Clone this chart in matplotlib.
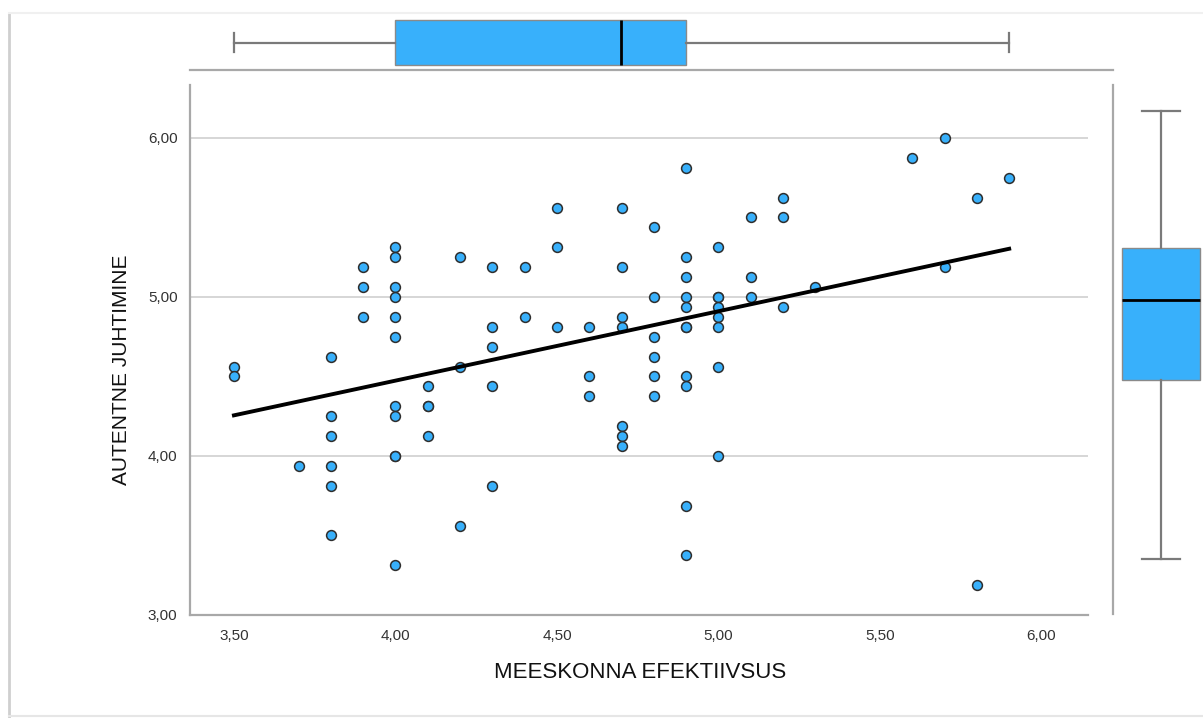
import numpy as np
import matplotlib.pyplot as plt
from matplotlib.lines import Line2D

plt.rcParams['font.family'] = ['Liberation Sans', 'DejaVu Sans']

# MEESKONNA EFEKTIIVSUS (x) vs AUTENTNE JUHTIMINE (y), one entry per respondent
x_vals = [3.5, 3.5,
          3.7,
          3.8, 3.8, 3.8, 3.8, 3.8, 3.8,
          3.9, 3.9, 3.9,
          4.0, 4.0, 4.0, 4.0, 4.0, 4.0, 4.0, 4.0, 4.0, 4.0, 4.0,
          4.1, 4.1, 4.1, 4.1,
          4.2, 4.2, 4.2,
          4.3, 4.3, 4.3, 4.3, 4.3,
          4.4, 4.4,
          4.5, 4.5, 4.5,
          4.6, 4.6, 4.6,
          4.7, 4.7, 4.7, 4.7, 4.7, 4.7, 4.7,
          4.8, 4.8, 4.8, 4.8, 4.8, 4.8,
          4.9, 4.9, 4.9, 4.9, 4.9, 4.9, 4.9, 4.9, 4.9, 4.9, 4.9,
          5.0, 5.0, 5.0, 5.0, 5.0, 5.0, 5.0, 5.0,
          5.1, 5.1, 5.1,
          5.2, 5.2, 5.2,
          5.3,
          5.6,
          5.7, 5.7,
          5.8, 5.8,
          5.9]
y_vals = [4.5625, 4.5,
          3.9375,
          4.625, 4.25, 4.125, 3.9375, 3.8125, 3.5,
          5.1875, 5.0625, 4.875,
          5.3125, 5.25, 5.0625, 5.0, 4.875, 4.75, 4.3125, 4.25, 4.0, 4.0, 3.3125,
          4.4375, 4.3125, 4.3125, 4.125,
          5.25, 4.5625, 3.5625,
          5.1875, 4.8125, 4.6875, 4.4375, 3.8125,
          5.1875, 4.875,
          5.5625, 5.3125, 4.8125,
          4.8125, 4.5, 4.375,
          5.5625, 5.1875, 4.875, 4.8125, 4.1875, 4.125, 4.0625,
          5.4375, 5.0, 4.75, 4.625, 4.5, 4.375,
          5.8125, 5.25, 5.125, 5.0, 4.9375, 4.8125, 4.8125, 4.5, 4.4375, 3.6875, 3.375,
          5.3125, 5.0, 5.0, 4.9375, 4.875, 4.8125, 4.5625, 4.0,
          5.5, 5.125, 5.0,
          5.625, 5.5, 4.9375,
          5.0625,
          5.875,
          6.0, 5.1875,
          5.625, 3.1875,
          5.75]

x_ticks = [3.5, 4.0, 4.5, 5.0, 5.5, 6.0]
y_ticks = [3.0, 4.0, 5.0, 6.0]
x_tick_labels = ['3,50', '4,00', '4,50', '5,00', '5,50', '6,00']
y_tick_labels = ['3,00', '4,00', '5,00', '6,00']

blue = '#38b0fb'
gray = '#a8a8a8'

W, H = 1203, 718
fig = plt.figure(figsize=(W / 100, H / 100), dpi=100)


def px_axes(left, top, right, bottom):
    return fig.add_axes([left / W, 1 - bottom / H, (right - left) / W, (bottom - top) / H])


x = np.array(x_vals)
y = np.array(y_vals)

# main scatter
ax = px_axes(190, 85, 1088, 615)
ax.scatter(x, y, s=50, color=blue, edgecolor='#2e2e2e', linewidth=1.1, zorder=3)
slope, intercept = np.polyfit(x, y, 1)
xl = np.array([x.min(), x.max()])
ax.plot(xl, slope * xl + intercept, color='black', linewidth=2.8, zorder=4)
ax.set_xlim(3.364, 6.144)
ax.set_ylim(3.0, 6.333)
ax.set_xticks(x_ticks)
ax.set_xticklabels(x_tick_labels)
ax.set_yticks(y_ticks)
ax.set_yticklabels(y_tick_labels)
ax.tick_params(length=0, labelsize=11, labelcolor='#333333')
ax.tick_params(axis='x', pad=10)
ax.tick_params(axis='y', pad=9)
ax.grid(axis='y', color='#d0d0d0', linewidth=1.2)
ax.set_axisbelow(True)
for side in ['top', 'right']:
    ax.spines[side].set_visible(False)
for side in ['left', 'bottom']:
    ax.spines[side].set_color(gray)
    ax.spines[side].set_linewidth(1.6)

box_kw = dict(patch_artist=True, showfliers=False,
              boxprops=dict(facecolor=blue, edgecolor='#8a8a8a', linewidth=1),
              medianprops=dict(color='black', linewidth=2),
              whiskerprops=dict(color='#7a7a7a', linewidth=1.6),
              capprops=dict(color='#7a7a7a', linewidth=1.6))

# marginal box plot for x (top)
axt = px_axes(190, 10, 1113, 70)
axt.boxplot(x, vert=False, positions=[0.458], widths=0.75, capwidths=0.32, **box_kw)
axt.set_xlim(3.364, 6.222)
axt.set_ylim(0, 1)
axt.set_xticks([])
axt.set_yticks([])
for side in ['top', 'left', 'right']:
    axt.spines[side].set_visible(False)
axt.spines['bottom'].set_color(gray)
axt.spines['bottom'].set_linewidth(1.6)

# marginal box plot for y (right)
axr = px_axes(1113, 85, 1203, 614)
axr.boxplot(y, positions=[0.533], widths=0.867, capwidths=0.43, **box_kw)
axr.set_xlim(0, 1)
axr.set_ylim(2.842, 6.163)
axr.set_xticks([])
axr.set_yticks([])
for side in ['top', 'bottom', 'right']:
    axr.spines[side].set_visible(False)
axr.spines['left'].set_color(gray)
axr.spines['left'].set_linewidth(1.6)

fig.text(640 / W, 1 - 673 / H, 'MEESKONNA EFEKTIIVSUS', fontsize=16,
         ha='center', va='center', color='#111111')
fig.text(122 / W, 1 - 370 / H, 'AUTENTNE JUHTIMINE', fontsize=15, rotation=90,
         ha='center', va='center', color='#111111')

# faint frame shadow round the picture
fig.add_artist(Line2D([9 / W, 9 / W], [1 - 13 / H, 0], color='#cfcfcf', linewidth=2))
fig.add_artist(Line2D([9 / W, 1], [1 - 13 / H, 1 - 13 / H], color='#f0f0f0', linewidth=1.5))
fig.add_artist(Line2D([9 / W, 1], [1 - 716 / H, 1 - 716 / H], color='#e6e6e6', linewidth=1.5))

fig.savefig('out.png', dpi=100)
